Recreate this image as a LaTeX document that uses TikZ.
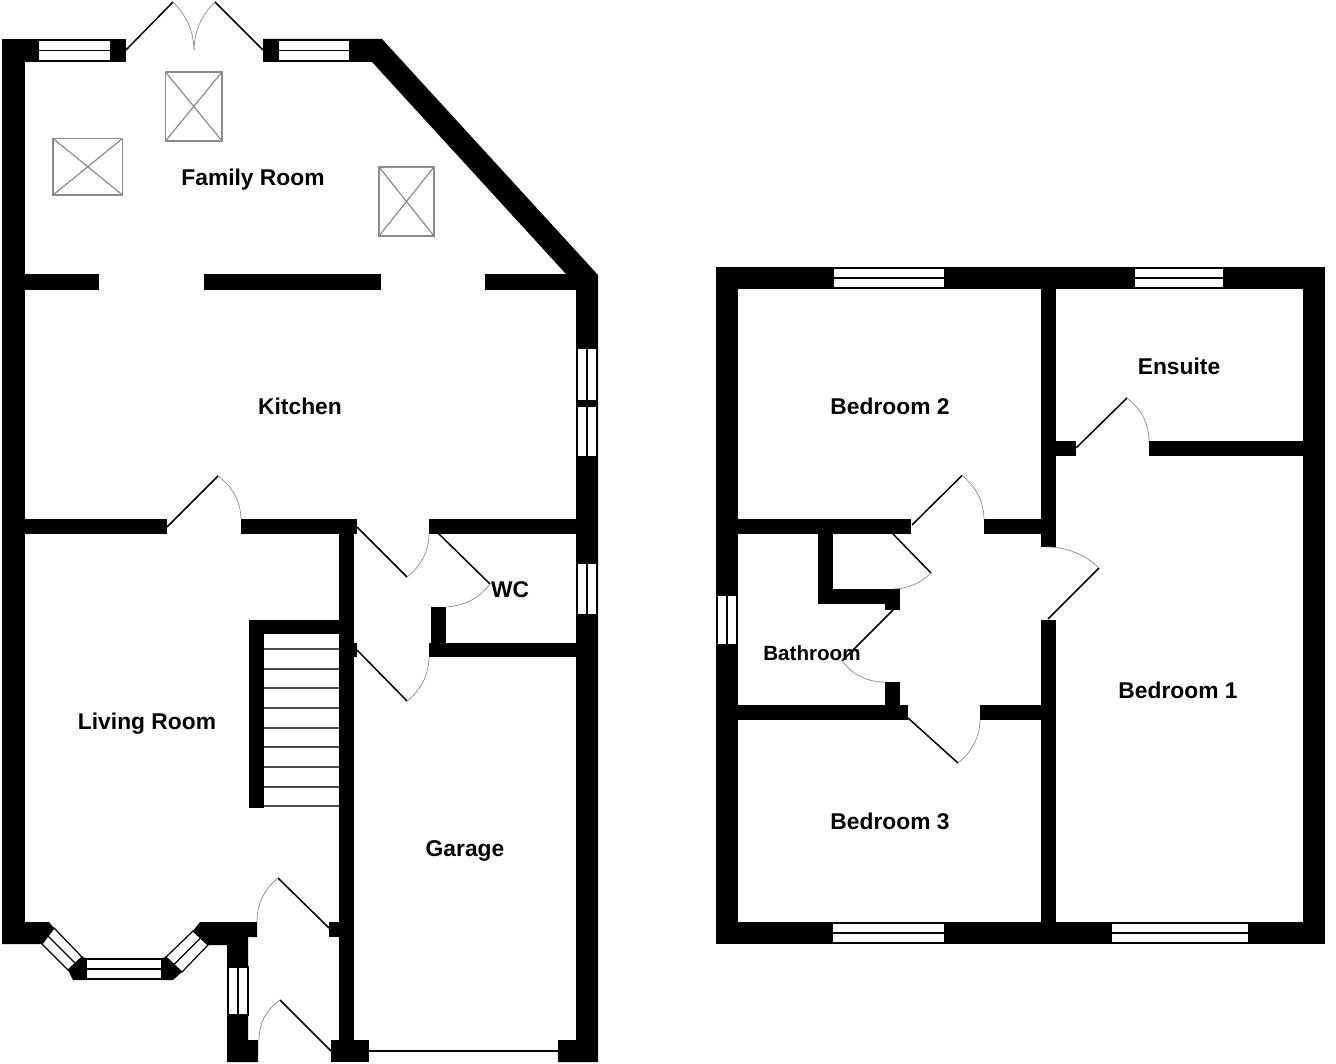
\documentclass[tikz,border=0pt]{standalone}
\usepackage{fontspec}
\setmainfont{Liberation Sans}
\usetikzlibrary{calc}
\newcommand{\wallbox}[4]{\fill[wall] (#1,#2) rectangle (#3,#4);}
% horizontal window: central line runs left to right
\newcommand{\winh}[4]{\draw[winframe] (#1,#2) rectangle (#3,#4);
  \draw[winframe] (#1,{(#2+#4)/2}) -- (#3,{(#2+#4)/2});}
% vertical window: central line runs top to bottom
\newcommand{\winv}[4]{\draw[winframe] (#1,#2) rectangle (#3,#4);
  \draw[winframe] ({(#1+#3)/2},#2) -- ({(#1+#3)/2},#4);}
% door: hinge, free end of the leaf, end of the swing on the wall
\newcommand{\doorleaf}[3]{\draw[leaf] (#1) -- (#2);
  \coordinate (swingc) at ($(#1)!1.1716!($(#2)!.5!(#3)$)$);
  \draw[swing] (#2) .. controls ($(#2)!.667!(swingc)$) and ($(#3)!.667!(swingc)$) .. (#3);}
\newcommand{\skylight}[4]{\draw[sky] (#1,#2) rectangle (#3,#4);
  \draw[sky] (#1,#2) -- (#3,#4) (#3,#2) -- (#1,#4);}
\tikzset{
  wall/.style={fill=black},
  winframe/.style={draw=black,fill=white,line width=1.2pt},
  leaf/.style={draw=black,line width=1.5pt},
  swing/.style={draw=black!45,line width=.7pt},
  sky/.style={draw=black!45,line width=1.2pt},
  tread/.style={draw=black!70,line width=1.3pt},
  room/.style={font=\fontsize{22.8}{24}\selectfont\bfseries,text=black,inner sep=0pt},
  smallroom/.style={font=\fontsize{20.6}{24}\selectfont\bfseries,text=black,inner sep=0pt}
}
\begin{document}
\begin{tikzpicture}[x=1pt,y=-1pt]
\useasboundingbox (0,0) rectangle (1336,1064);
\fill[white] (0,0) rectangle (1336,1064);

%% ---------- Ground floor walls ----------
\wallbox{2}{39}{25}{944}
\wallbox{2}{39}{126}{62}
\fill[wall] (263,39) -- (382,39) -- (598,275) -- (598,1062) -- (558,1062) -- (558,1040)
  -- (576,1040) -- (576,290) -- (566,274) -- (372,62) -- (263,62) -- cycle;
% family / kitchen
\wallbox{25}{274}{99}{290}
\wallbox{204}{274}{381}{290}
\wallbox{485}{274}{576}{290}
% kitchen / living
\wallbox{25}{519}{167}{534}
\wallbox{241}{519}{357}{534}
\wallbox{429}{519}{576}{534}
% spine wall
\wallbox{339}{519}{354}{1062}
\wallbox{354}{643}{357}{657}
% WC
\wallbox{431}{607}{446}{657}
\wallbox{429}{643}{576}{657}
% stairs
\wallbox{249}{620}{264}{808}
\wallbox{249}{620}{339}{634}
\foreach \yy in {649,669,688,708,728,747,767,787,806}
  \draw[tread] (264,\yy) -- (339,\yy);
% bay and porch
\fill[wall] (2,922) -- (49,922) -- (54,928) -- (42,944) -- (2,944) -- cycle;
\fill[wall] (82,957) -- (86,958) -- (86,980) -- (73,980) -- (68,970) -- cycle;
\fill[wall] (162,958) -- (166,957) -- (182,972) -- (173,980) -- (162,980) -- cycle;
\fill[wall] (193,931) -- (200,922) -- (257,922) -- (257,937) -- (248,937) -- (248,1040)
  -- (258,1040) -- (258,1062) -- (227,1062) -- (227,945) -- (208,945) -- cycle;
\wallbox{329}{922}{339}{937}
\wallbox{331}{1040}{369}{1062}

%% ---------- First floor walls ----------
\wallbox{716}{267}{1325}{289}
\wallbox{716}{922}{1325}{944}
\wallbox{716}{267}{738}{944}
\wallbox{1303}{267}{1325}{944}
\wallbox{1041}{289}{1056}{547}
\wallbox{1041}{620}{1056}{944}
\wallbox{1056}{441}{1076}{456}
\wallbox{1149}{441}{1303}{456}
\wallbox{738}{519}{911}{534}
\wallbox{984}{519}{1041}{534}
\wallbox{818}{534}{833}{604}
\wallbox{818}{589}{900}{604}
\wallbox{885}{589}{900}{610}
\wallbox{885}{682}{900}{705}
\wallbox{738}{705}{908}{720}
\wallbox{980}{705}{1041}{720}

%% ---------- Windows ----------
\winh{38}{40}{111}{61}
\winh{278}{40}{350}{61}
\winv{577}{348}{597}{401}
\winv{577}{406}{597}{457}
\winv{577}{563}{597}{615}
\winv{228}{967}{248}{1015}
\winh{86}{959}{162}{979}
\draw[winframe] (54,928) -- (82,957) -- (68,970) -- (42,944) -- cycle;
\draw[winframe] (48,936) -- (75,963);
\draw[winframe] (166,957) -- (193,931) -- (208,945) -- (182,972) -- cycle;
\draw[winframe] (174,964.5) -- (200.5,938);
\winh{833}{268}{945}{288}
\winh{1134}{268}{1224}{288}
\winh{832}{923}{945}{943}
\winh{1111}{923}{1249}{943}
\winv{717}{595}{737}{645}
\draw[leaf] (369,1051) -- (558,1051);

%% ---------- Doors ----------
\doorleaf{126,50}{173,2}{194,50}
\doorleaf{263,50}{215,2}{194,50}
\doorleaf{167,527}{218,476}{241,519}
\doorleaf{357,527}{407,577}{429,534}
\doorleaf{438,533}{490,584}{445,607}
\doorleaf{357,650}{407,701}{429,657}
\doorleaf{329,928}{278,878}{257,922}
\doorleaf{331,1051}{280,1000}{259,1040}
\doorleaf{912,525}{962,475.5}{984,519}
\doorleaf{893,534}{931,573}{892,589}
\doorleaf{893,610}{842,661}{885,682}
\doorleaf{908,718}{958,763}{980,720}
\doorleaf{1048,619}{1099,568}{1046,547}
\doorleaf{1076,448}{1127,398}{1149,441}

%% ---------- Skylights ----------
\skylight{165.5}{72}{222}{141}
\skylight{53}{138.5}{122.5}{195}
\skylight{379}{167}{434}{236}

%% ---------- Labels ----------
\node[room] (family) at (253,180) {Family Room};
\node[room] (kitchen) at (300,406) {Kitchen};
\node[room] (living) at (147,724) {Living Room};
\node[room] (garage) at (465,851) {Garage};
\node[room] (wc) at (510,590) {WC};
\node[room] (bed2) at (890,406) {Bedroom 2};
\node[room] (ensuite) at (1179,366) {Ensuite};
\node[room] (bed1) at (1178,690) {Bedroom 1};
\node[room] (bed3) at (890,821) {Bedroom 3};
\node[smallroom] (bath) at (812,653) {Bathroom};
\end{tikzpicture}
\end{document}
